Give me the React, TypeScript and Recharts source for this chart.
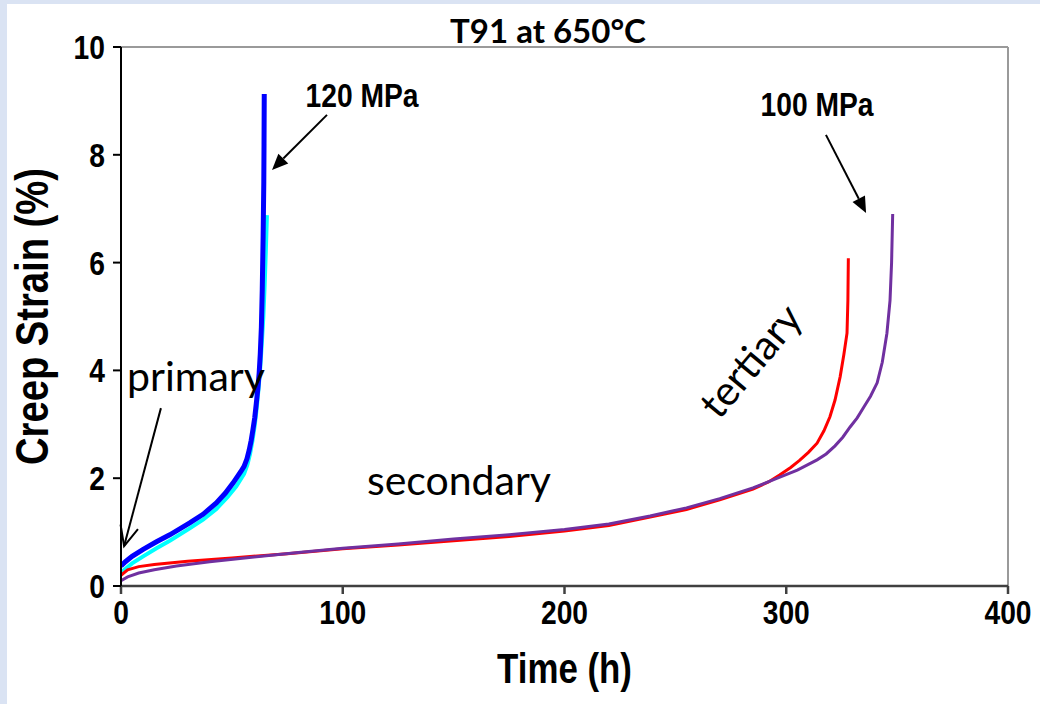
import React from 'react';
import { LineChart, Line, XAxis, YAxis, ReferenceLine, ReferenceDot } from 'recharts';

// time (h), creep strain (%)
const blue120: number[][] = [
  [0, 0.37], [2, 0.45], [5, 0.55], [10, 0.68], [16, 0.82], [22, 0.95], [31, 1.17], [37, 1.33],
  [43, 1.54], [47, 1.72], [50.5, 1.91], [54, 2.12], [55.5, 2.22], [56.8, 2.36], [57.8, 2.52],
  [58.7, 2.7], [59.5, 2.9], [60.3, 3.12], [61, 3.38], [61.7, 3.66], [62.3, 3.95], [62.8, 4.3],
  [63.3, 4.8], [63.7, 5.5], [64.1, 6.5], [64.4, 7.5], [64.5, 8.2], [64.6, 9.13],
];
const cyan120: number[][] = [
  [0, 0.25], [5, 0.42], [10, 0.55], [16, 0.7], [22, 0.84], [31, 1.07], [37, 1.23], [43, 1.43],
  [48, 1.65], [52, 1.85], [55.5, 2.08], [57, 2.25], [58.2, 2.45], [59.3, 2.7], [60.3, 2.98],
  [61.2, 3.3], [62, 3.65], [62.8, 4.05], [63.5, 4.5], [64.2, 5.0], [64.8, 5.6], [65.3, 6.2],
  [65.8, 6.88],
];
const red100: number[][] = [
  [0, 0.2], [3, 0.3], [8, 0.36], [15, 0.4], [30, 0.46], [50, 0.52], [75, 0.6], [100, 0.69],
  [125, 0.76], [150, 0.84], [175, 0.92], [200, 1.02], [220, 1.12], [238.6, 1.28], [255, 1.42],
  [270, 1.6], [285, 1.8], [292, 1.93], [297, 2.06], [302, 2.2], [306, 2.33], [310, 2.48],
  [313.9, 2.65], [317, 2.88], [319.7, 3.14], [322, 3.45], [324.3, 3.88], [326, 4.3],
  [327.4, 4.69], [327.8, 5.3], [328, 6.08],
];
const purple100: number[][] = [
  [0, 0.1], [3, 0.17], [8, 0.24], [15, 0.3], [25, 0.37], [40, 0.45], [60, 0.54], [80, 0.62],
  [100, 0.7], [125, 0.78], [150, 0.87], [175, 0.95], [200, 1.05], [220, 1.15], [238.6, 1.3],
  [255, 1.45], [270, 1.62], [285, 1.82], [296, 2.0], [305, 2.15], [313.9, 2.34], [318, 2.45],
  [322, 2.6], [325.5, 2.76], [328.8, 2.95], [332, 3.12], [335, 3.32], [338, 3.52], [341, 3.77],
  [343.3, 4.15], [345.4, 4.69], [346.8, 5.3], [347.5, 6.0], [348, 6.9],
];

const xTicks = [0, 100, 200, 300, 400];
const yTicks = [0, 2, 4, 6, 8, 10];

const titleText = 'T91 at 650°C';
const xLabel = 'Time (h)';
const yLabel = 'Creep Strain (%)';

// annotation anchors (time, strain)
const label120 = { text: '120 MPa', t: 108.7, s: 9.11 };
const label100 = { text: '100 MPa', t: 313.9, s: 8.94 };
const labelPrimary = { text: 'primary', t: 33.8, s: 3.91 };
const labelSecondary = { text: 'secondary', t: 152.4, s: 1.97 };
const labelTertiary = { text: 'tertiary', t: 283.6, s: 4.19 };
const arrow120 = [{ x: 92.9, y: 8.74 }, { x: 68.1, y: 7.72 }];
const arrow100 = [{ x: 317.9, y: 8.37 }, { x: 336, y: 6.92 }];
const arrowPrimary = [{ x: 18, y: 3.3 }, { x: 1.4, y: 0.74 }];

const toPts = (a: number[][]) => a.map(([t, s]) => ({ t, s }));

const SANS = '"Liberation Sans", Arial, sans-serif';
const CAL = 'Lato, "Open Sans", sans-serif';
const NARROW_SCALE = 0.83;

const Arrow = (props: any) => {
  const { x1, y1, x2, y2, filled } = props;
  if ([x1, y1, x2, y2].some((v) => v == null || isNaN(v))) return null;
  const ang = Math.atan2(y2 - y1, x2 - x1);
  const L = filled ? 16 : 20;
  const W = filled ? 7 : 9;
  const bx = x2 - L * Math.cos(ang);
  const by = y2 - L * Math.sin(ang);
  const px = -Math.sin(ang) * W;
  const py = Math.cos(ang) * W;
  if (filled) {
    return (
      <g>
        <line x1={x1} y1={y1} x2={bx} y2={by} stroke="#000" strokeWidth={2} />
        <polygon points={`${x2},${y2} ${bx + px},${by + py} ${bx - px},${by - py}`} fill="#000" />
      </g>
    );
  }
  return (
    <g>
      <line x1={x1} y1={y1} x2={x2} y2={y2} stroke="#000" strokeWidth={2} />
      <polyline
        points={`${bx + px},${by + py} ${x2},${y2} ${bx - px},${by - py}`}
        fill="none"
        stroke="#000"
        strokeWidth={2}
      />
    </g>
  );
};

const NarrowText = ({ x, y, rotate = 0, anchor = 'middle', dy = '0.355em', size, children }: any) => (
  <text
    transform={`translate(${x} ${y}) rotate(${rotate}) scale(${NARROW_SCALE} 1)`}
    x={0}
    y={0}
    dy={dy}
    textAnchor={anchor}
    fontFamily={SANS}
    fontWeight={700}
    fontSize={size}
    fill="#000"
  >
    {children}
  </text>
);

const XTick = (p: any) => {
  if (p.x == null || p.y == null) return null;
  return (
    <NarrowText x={p.x} y={p.y} dy="0.71em" size={34}>
      {p.payload?.value}
    </NarrowText>
  );
};
const YTick = (p: any) => {
  if (p.x == null || p.y == null) return null;
  return (
    <NarrowText x={p.x} y={p.y} anchor="end" size={34}>
      {p.payload?.value}
    </NarrowText>
  );
};

const narrowLabel = (text: string) => (props: any) => {
  const { cx, cy } = props;
  if (cx == null || cy == null) return null;
  return (
    <NarrowText x={cx} y={cy} size={34}>
      {text}
    </NarrowText>
  );
};

const calLabel = (text: string, rotate = 0) => (props: any) => {
  const { cx, cy } = props;
  if (cx == null || cy == null) return null;
  return (
    <text
      x={cx}
      y={cy}
      textAnchor="middle"
      dominantBaseline="central"
      transform={rotate ? `rotate(${rotate} ${cx} ${cy})` : undefined}
      fontFamily={CAL}
      fontSize={41}
      fill="#000"
    >
      {text}
    </text>
  );
};

export default function App() {
  return (
    <div style={{ position: 'absolute', left: 0, top: 0, width: 1040, height: 704, background: '#dae3f3', overflow: 'hidden' }}>
      <div style={{ position: 'absolute', left: 7, top: 4, right: 0, bottom: 0, background: '#fff' }} />
      <div
        style={{
          position: 'absolute',
          left: 348,
          width: 400,
          top: 10,
          textAlign: 'center',
          fontFamily: CAL,
          fontWeight: 700,
          fontSize: 33,
          lineHeight: '40px',
          color: '#000',
        }}
      >
        {titleText}
      </div>
      <div style={{ position: 'absolute', left: 0, top: 0 }}>
        <LineChart width={1040} height={704} margin={{ top: 47, right: 32, bottom: 0, left: 0 }}>
          <XAxis
            type="number"
            dataKey="t"
            domain={[0, 400]}
            ticks={xTicks}
            allowDataOverflow
            height={118}
            tickSize={8}
            tickMargin={6}
            stroke="#404040"
            strokeWidth={2.5}
            tick={<XTick />}
            label={(p: any) => {
              const vb = p.viewBox || {};
              return (
                <NarrowText x={vb.x + vb.width / 2} y={683} dy="0" size={42}>
                  {xLabel}
                </NarrowText>
              );
            }}
          />
          <YAxis
            type="number"
            domain={[0, 10]}
            ticks={yTicks}
            allowDataOverflow
            width={121}
            tickSize={8}
            tickMargin={8}
            stroke="#000"
            strokeWidth={2}
            tick={<YTick />}
            label={(p: any) => {
              const vb = p.viewBox || {};
              const cy = vb.y + vb.height / 2;
              return (
                <NarrowText x={32} y={cy} rotate={-90} size={46}>
                  {yLabel}
                </NarrowText>
              );
            }}
          />
          <ReferenceLine y={10} stroke="#9a9a9a" strokeWidth={2} ifOverflow="visible" />
          <ReferenceLine x={400} stroke="#9a9a9a" strokeWidth={2} ifOverflow="visible" />
          <Line data={toPts(cyan120)} dataKey="s" stroke="#00ffff" strokeWidth={4} dot={false} type="linear" isAnimationActive={false} />
          <Line data={toPts(blue120)} dataKey="s" stroke="#0000ff" strokeWidth={5} dot={false} type="linear" isAnimationActive={false} />
          <Line data={toPts(red100)} dataKey="s" stroke="#ff0000" strokeWidth={3} dot={false} type="linear" isAnimationActive={false} />
          <Line data={toPts(purple100)} dataKey="s" stroke="#7030a0" strokeWidth={3} dot={false} type="linear" isAnimationActive={false} />
          <ReferenceLine segment={arrow120} ifOverflow="visible" shape={(p: any) => <Arrow {...p} filled />} />
          <ReferenceLine segment={arrow100} ifOverflow="visible" shape={(p: any) => <Arrow {...p} filled />} />
          <ReferenceLine segment={arrowPrimary} ifOverflow="visible" shape={(p: any) => <Arrow {...p} />} />
          <ReferenceDot x={label120.t} y={label120.s} ifOverflow="visible" shape={narrowLabel(label120.text)} />
          <ReferenceDot x={label100.t} y={label100.s} ifOverflow="visible" shape={narrowLabel(label100.text)} />
          <ReferenceDot x={labelPrimary.t} y={labelPrimary.s} ifOverflow="visible" shape={calLabel(labelPrimary.text)} />
          <ReferenceDot x={labelSecondary.t} y={labelSecondary.s} ifOverflow="visible" shape={calLabel(labelSecondary.text)} />
          <ReferenceDot x={labelTertiary.t} y={labelTertiary.s} ifOverflow="visible" shape={calLabel(labelTertiary.text, -50)} />
        </LineChart>
      </div>
    </div>
  );
}
